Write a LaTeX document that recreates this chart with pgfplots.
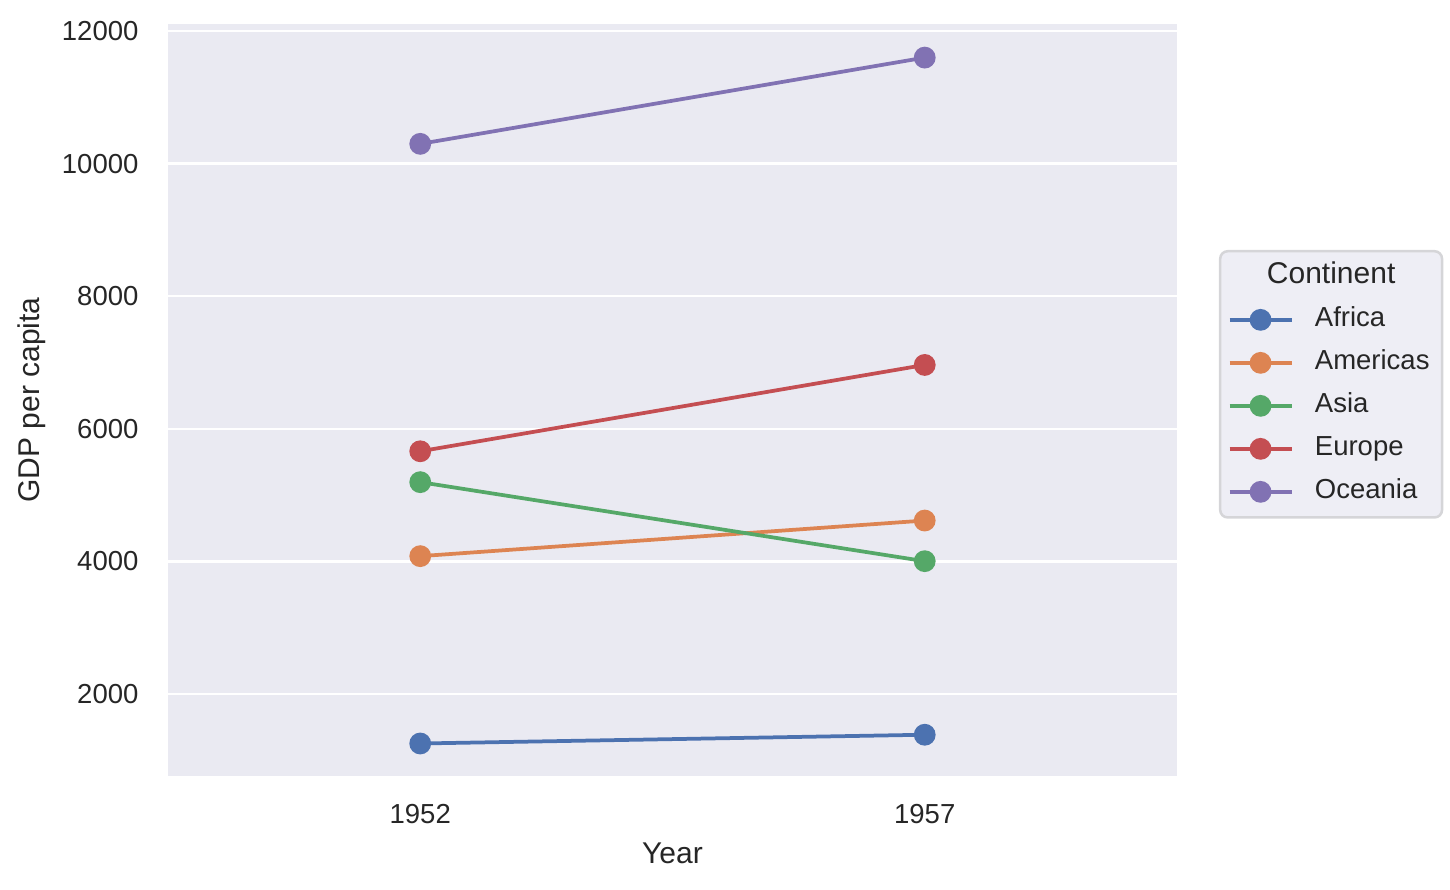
\documentclass[border=0pt]{standalone}
\usepackage{fontspec}
\setmainfont{Liberation Sans}
\usepackage{pgfplots}
\pgfplotsset{compat=1.18}
\definecolor{bg}{HTML}{EAEAF2}
\definecolor{txt}{HTML}{262626}
\definecolor{legfill}{HTML}{EEEEF5}
\definecolor{legdraw}{HTML}{D5D5D8}
\definecolor{c1}{HTML}{4C72B0}
\definecolor{c2}{HTML}{DD8452}
\definecolor{c3}{HTML}{55A868}
\definecolor{c4}{HTML}{C44E52}
\definecolor{c5}{HTML}{8172B3}
\begin{document}
\begin{tikzpicture}
\begin{axis}[
  width=403.6pt, height=300.8pt, scale only axis,
  xmin=-0.5, xmax=1.5, ymin=763, ymax=12106,
  xtick={0,1}, xticklabels={1952,1957},
  ytick={2000,4000,6000,8000,10000,12000},
  scaled y ticks=false,
  /pgf/number format/assume math mode=true,
  /pgf/number format/1000 sep={},
  axis background/.style={fill=bg},
  axis line style={draw=none},
  major tick length=0pt,
  ymajorgrids, xmajorgrids=false,
  grid style={white, line width=1pt},
  tick label style={font=\fontsize{11}{13}\selectfont, text=txt},
  yticklabel style={xshift=-8.3pt},
  xticklabel style={yshift=-7.9pt},
  label style={font=\fontsize{12}{14}\selectfont, text=txt},
  xlabel={Year}, ylabel={GDP per capita},
  xlabel style={at={(axis description cs:0.5,-0.1024)}, anchor=center},
  ylabel style={at={(axis description cs:-0.1348,0.5)}, anchor=center},
  clip=false,
  legend cell align=left,
  legend image code/.code={\draw[mark repeat=2,mark phase=2] plot coordinates {(0pt,0pt) (12.4pt,0pt) (24.8pt,0pt)};},
  legend style={at={(rel axis cs:1.0416,0.6995)}, anchor=north west,
    fill=legfill, draw=legdraw, rounded corners=3pt, line width=1pt,
    inner xsep=3pt, inner ysep=3pt, column sep=6.6pt,
    nodes={inner sep=2pt, text height=8pt, text depth=2.5pt, text=txt, font=\fontsize{11}{13}\selectfont},
    row sep=2.7pt},
  every axis plot/.append style={line width=1.5pt, mark=*, mark size=3.6pt, mark options={solid}},
]
\path (rel axis cs:-0.1665,-0.1516) rectangle (rel axis cs:1.2706,1.0319);
\addlegendimage{empty legend}
\addlegendentry[font=\fontsize{12}{14}\selectfont]{\hspace*{-19.2pt}Continent}
\addplot[c1] coordinates {(0,1253) (1,1385)};
\addlegendentry{Africa}
\addplot[c2] coordinates {(0,4079) (1,4616)};
\addlegendentry{Americas}
\addplot[c3] coordinates {(0,5195) (1,4003)};
\addlegendentry{Asia}
\addplot[c4] coordinates {(0,5661) (1,6963)};
\addlegendentry{Europe}
\addplot[c5] coordinates {(0,10298) (1,11599)};
\addlegendentry{Oceania}
\end{axis}
\end{tikzpicture}
\end{document}
